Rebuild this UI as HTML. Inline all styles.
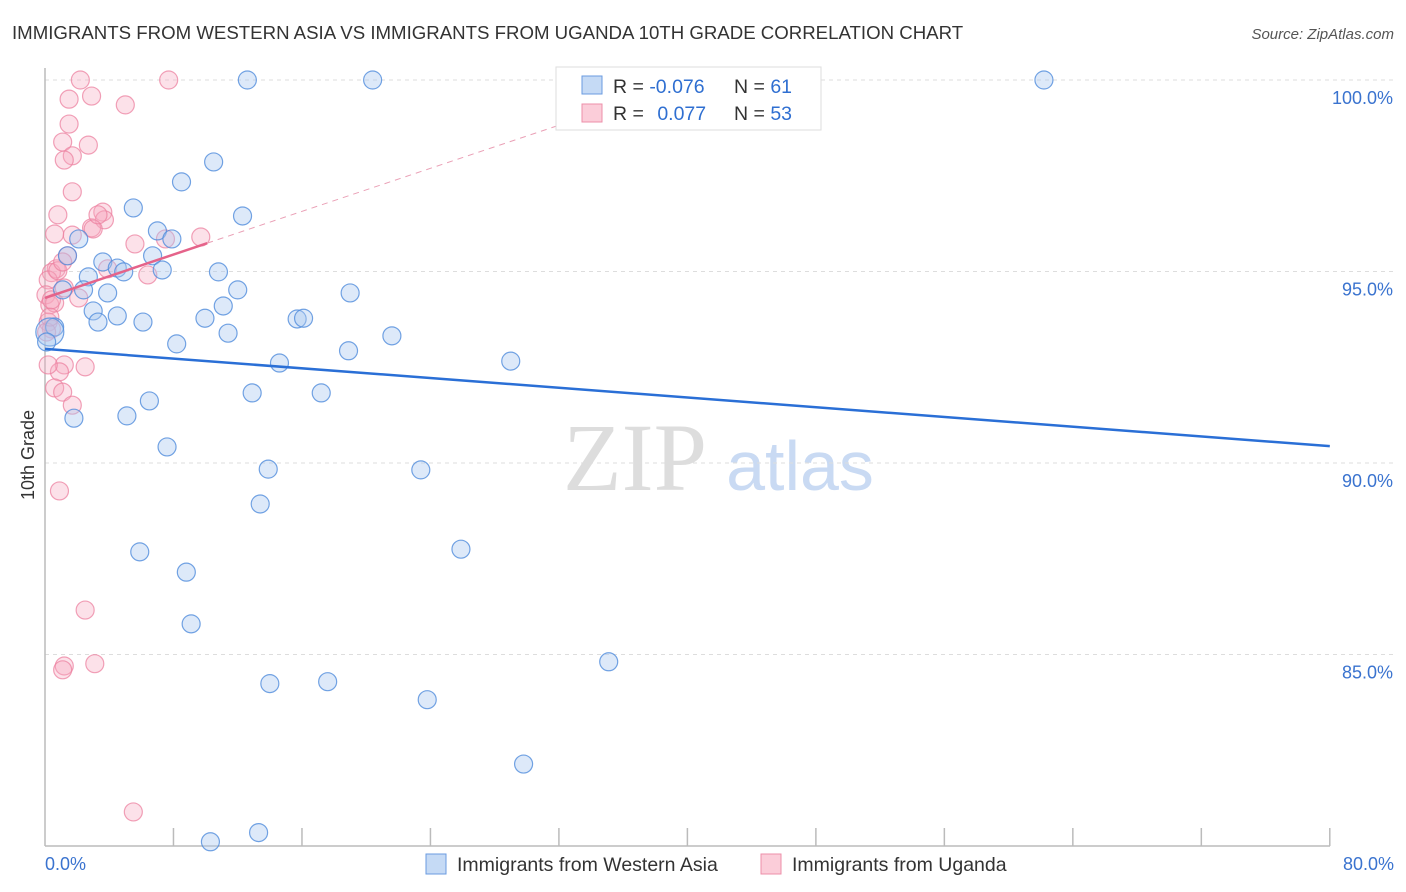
<!DOCTYPE html>
<html><head><meta charset="utf-8"><style>
body{margin:0;background:#fff;font-family:"Liberation Sans",sans-serif;}
#wrap{position:relative;width:1406px;height:892px;overflow:hidden;}
</style></head><body>
<div id="wrap">
<svg id="svg" width="1406" height="892" xmlns="http://www.w3.org/2000/svg">
<text x="12" y="39" font-size="18.65" fill="#333">IMMIGRANTS FROM WESTERN ASIA VS IMMIGRANTS FROM UGANDA 10TH GRADE CORRELATION CHART</text>
<text x="1394" y="39" font-size="15" fill="#555" font-style="italic" text-anchor="end">Source: ZipAtlas.com</text>
<text x="635" y="490" font-size="96" fill="#ddd" font-family="Liberation Serif,serif" text-anchor="middle">ZIP</text>
<text x="800" y="490" font-size="70" fill="#c9daf3" text-anchor="middle">atlas</text>
<g id="grid"></g><g id="pts"></g><g id="trend"></g>
<text x="34" y="455" font-size="18" fill="#333" transform="rotate(-90 34 455)" text-anchor="middle">10th Grade</text>
<g>
<rect x="556" y="67" width="265" height="63" fill="#fff" stroke="#ddd"/>
<rect x="582" y="76" width="20" height="18" fill="#c5daf5" stroke="#6a9be0"/>
<rect x="582" y="104" width="20" height="18" fill="#fbcdd9" stroke="#ec8fa9"/>
<text x="613" y="93" font-size="19.5" fill="#333">R = <tspan fill="#2f6fd1">-0.076</tspan></text>
<text x="734" y="93" font-size="19.5" fill="#333">N = <tspan fill="#2f6fd1">61</tspan></text>
<text x="613" y="120" font-size="19.5" fill="#333">R = <tspan fill="#2f6fd1" dx="8">0.077</tspan></text>
<text x="734" y="120" font-size="19.5" fill="#333">N = <tspan fill="#2f6fd1">53</tspan></text>
</g>
<g>
<rect x="426" y="854" width="20" height="20" fill="#c5daf5" stroke="#6a9be0"/>
<text x="457" y="871" font-size="19.5" fill="#333">Immigrants from Western Asia</text>
<rect x="761" y="854" width="20" height="20" fill="#fbcdd9" stroke="#ec8fa9"/>
<text x="792" y="871" font-size="19.5" fill="#333">Immigrants from Uganda</text>
</g>
</svg></div>
<script>
const yTicks=[100,95,90,85];
const yTickLabels=["100.0%","95.0%","90.0%","85.0%"];
const xTickLabels=["0.0%","80.0%"];
const blueX=[12.6,20.4,44.0,62.2,10.5,8.5,5.5,12.3,7.0,7.9,2.1,1.4,6.7,3.6,4.5,4.9,7.3,10.8,2.7,12.0,1.1,2.4,3.9,19.0,11.1,3.0,4.5,9.96,6.1,3.3,15.7,16.1,0.6,11.4,21.6,8.2,18.9,14.6,29.0,12.9,17.2,6.5,5.1,1.8,7.6,13.9,23.4,13.4,5.9,25.9,8.8,9.1,35.1,14.0,17.6,23.8,29.8,13.3,10.3,0.3,0.1];
const blueY=[100,100,100,100,97.86,97.34,96.66,96.45,96.06,95.85,95.85,95.41,95.41,95.25,95.09,94.99,95.04,94.99,94.86,94.52,94.52,94.52,94.44,94.44,94.10,93.97,93.84,93.78,93.68,93.68,93.76,93.78,93.55,93.39,93.32,93.11,92.93,92.61,92.66,91.83,91.83,91.62,91.23,91.17,90.42,89.84,89.82,88.93,87.68,87.75,87.15,85.80,84.81,84.24,84.29,83.82,82.14,80.35,80.11,93.42,93.16];
const pinkX=[2.2,7.7,1.5,2.9,5.0,1.5,1.1,2.7,1.7,1.2,1.7,0.8,3.6,3.7,2.9,0.6,1.7,5.6,9.7,1.4,0.7,0.4,6.4,3.9,0.2,1.2,2.1,0.06,0.3,0.2,0.4,0.6,1.2,0.9,2.5,0.2,0.6,1.1,1.7,0.9,2.5,1.2,1.1,3.1,5.5,0.1,0.3,0.4,0.8,1.1,3.0,3.3,7.5];
const pinkY=[100,100,99.50,99.58,99.35,98.85,98.38,98.30,98.02,97.91,97.08,96.48,96.55,96.35,96.14,95.98,95.95,95.72,95.90,95.41,95.07,94.97,94.91,95.07,94.78,94.57,94.31,94.39,94.13,93.68,93.50,94.18,92.56,92.38,92.51,92.56,91.96,91.85,91.51,89.27,86.16,84.70,84.60,84.76,80.89,93.42,93.81,94.26,95.02,95.25,96.11,96.48,95.85];
const blueTrend=[[0,92.98],[80,90.44]];
const pinkTrend=[[0,94.31],[10.1,95.74]];
const pinkDash=[[10.1,95.74],[34,99.1]];
const NS="http://www.w3.org/2000/svg";
const X=v=>45+v*16.06, Y=v=>80+(100-v)*38.3;
function mk(t,a,p){const e=document.createElementNS(NS,t);for(const k in a)e.setAttribute(k,a[k]);p.appendChild(e);return e;}
const grid=document.getElementById('grid');
yTicks.forEach((t,i)=>{
 const l=mk('line',{x1:45,x2:1394,y1:Y(t),y2:Y(t),stroke:'#ddd','stroke-dasharray':'4,4'},grid);
 
 
 const tx=mk('text',{x:1393,y:Y(t)+24,'font-size':18,fill:'#3a73cf','text-anchor':'end'},grid);
 tx.textContent=yTickLabels[i];
 
 
});
const ax=mk('line',{x1:45,x2:45,y1:68,y2:846,stroke:'#bbb','stroke-width':1.5},grid);


const bx=mk('line',{x1:45,x2:1330,y1:846,y2:846,stroke:'#bbb','stroke-width':1.5},grid);


for(let i=1;i<=10;i++){const t=mk('line',{x1:X(i*8),x2:X(i*8),y1:828,y2:846,stroke:'#bbb','stroke-width':1.5},grid);
 
 }
[[0,'start',45],[80,'end',1394]].forEach((d,i)=>{const t=mk('text',{x:d[2],y:870,'font-size':18,fill:'#3a73cf','text-anchor':d[1]},grid);t.textContent=xTickLabels[i];
 
 });
const pts=document.getElementById('pts');
pinkX.forEach((x,i)=>{const c=mk('circle',{cx:X(x),cy:Y(pinkY[i]),r:9,fill:'rgba(246,170,192,0.35)',stroke:'rgba(236,130,160,0.75)','stroke-width':1.2},pts);
 
 });
blueX.forEach((x,i)=>{const c=mk('circle',{cx:X(x),cy:Y(blueY[i]),r:(i===59?14:9),fill:'rgba(170,200,240,0.4)',stroke:'rgba(80,140,220,0.8)','stroke-width':1.2},pts);
 
 });
const tr=document.getElementById('trend');
const b=mk('line',{x1:X(blueTrend[0][0]),y1:Y(blueTrend[0][1]),x2:X(blueTrend[1][0]),y2:Y(blueTrend[1][1]),stroke:'#2a6fd6','stroke-width':2.5},tr);


const pd=mk('line',{x1:X(pinkDash[0][0]),y1:Y(pinkDash[0][1]),x2:X(pinkDash[1][0]),y2:Y(pinkDash[1][1]),stroke:'#eaa0b6','stroke-width':1,'stroke-dasharray':'6,5'},tr);


const p=mk('line',{x1:X(pinkTrend[0][0]),y1:Y(pinkTrend[0][1]),x2:X(pinkTrend[1][0]),y2:Y(pinkTrend[1][1]),stroke:'#e5638a','stroke-width':2.5},tr);


</script>
</body></html>
